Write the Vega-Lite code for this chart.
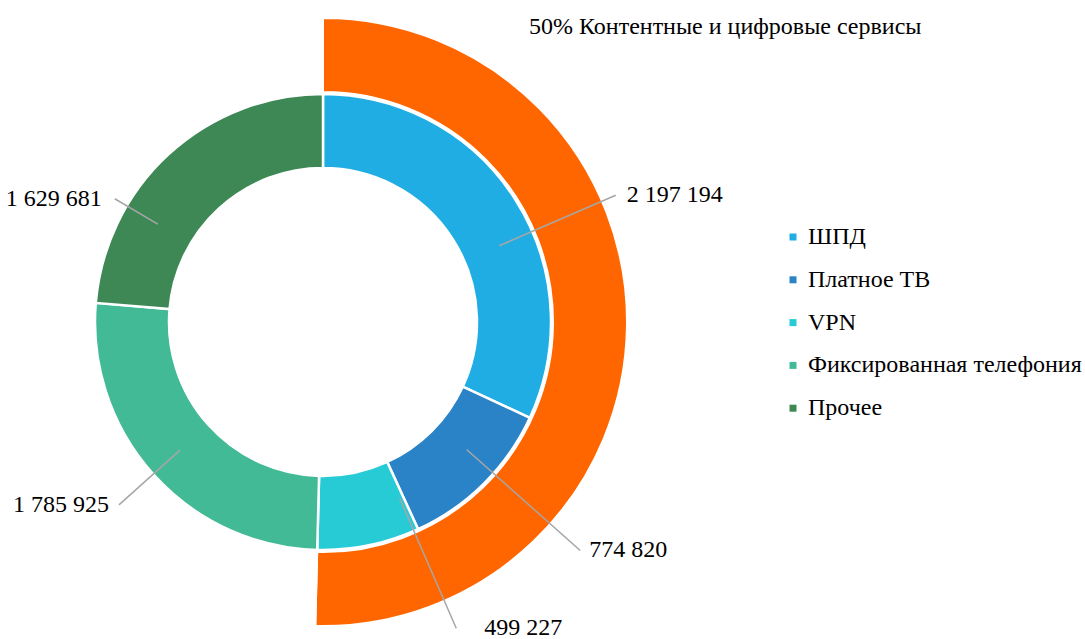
{
  "$schema": "https://vega.github.io/schema/vega-lite/v6.json",
  "autosize": "none",
  "width": 646,
  "height": 634,
  "padding": {"left": 0, "top": 5, "right": 439, "bottom": 0},
  "config": {
    "font": "Liberation Serif",
    "view": {"stroke": null},
    "locale": {"number": {"decimal": ",", "thousands": " ", "grouping": [3], "currency": ["", ""]}},
    "text": {"font": "Liberation Serif", "fontSize": 24, "color": "#000000"},
    "legend": {"labelFont": "Liberation Serif"}
  },
  "datasets": {
    "inner": [
      {"cat": "ШПД", "value": 2197194, "i": 1},
      {"cat": "Платное ТВ", "value": 774820, "i": 2},
      {"cat": "VPN", "value": 499227, "i": 3},
      {"cat": "Фиксированная телефония", "value": 1785925, "i": 4},
      {"cat": "Прочее", "value": 1629681, "i": 5}
    ],
    "outer": [
      {"cat": "Контентные и цифровые сервисы", "value": 3471241, "i": 1, "label": "50% Контентные и цифровые сервисы"},
      {"cat": "Остальное", "value": 3415606, "i": 2, "label": ""}
    ]
  },
  "layer": [
    {
      "data": {"name": "outer"},
      "mark": {"type": "arc", "radius": 304, "radius2": 230, "stroke": "#ffffff", "strokeWidth": 2},
      "encoding": {
        "theta": {"field": "value", "type": "quantitative", "stack": true},
        "order": {"field": "i", "type": "quantitative"},
        "color": {"field": "cat", "type": "nominal", "legend": null,
          "scale": {"domain": ["Контентные и цифровые сервисы", "Остальное"], "range": ["#FF6600", "rgba(255,255,255,0)"]}}
      }
    },
    {
      "data": {"name": "outer"},
      "mark": {"type": "text", "font": "Liberation Serif", "fontSize": 24, "radius": 499, "thetaOffset": -0.646, "align": "center", "baseline": "middle"},
      "encoding": {
        "theta": {"field": "value", "type": "quantitative", "stack": true},
        "order": {"field": "i", "type": "quantitative"},
        "text": {"field": "label", "type": "nominal"}
      }
    },
    {
      "data": {"name": "inner"},
      "mark": {"type": "arc", "radius": 228, "radius2": 154, "stroke": "#ffffff", "strokeWidth": 2.5},
      "encoding": {
        "theta": {"field": "value", "type": "quantitative", "stack": true},
        "order": {"field": "i", "type": "quantitative"},
        "color": {"field": "cat", "type": "nominal", "title": null,
          "scale": {"domain": ["ШПД", "Платное ТВ", "VPN", "Фиксированная телефония", "Прочее"],
                    "range": ["#1FADE4", "#2A83C6", "#27CBD6", "#43BA96", "#3D8855"]},
          "legend": {"orient": "none", "legendX": 781, "legendY": 220, "symbolType": "square", "symbolSize": 49,
                     "symbolStrokeWidth": 0, "labelFont": "Liberation Serif", "labelFontSize": 24, "labelColor": "#000000",
                     "labelLimit": 400, "labelOffset": 3, "rowPadding": 18.8, "padding": 0}}
      }
    },
    {
      "data": {"name": "inner"},
      "mark": {"type": "arc", "filled": false, "radius": 319, "radius2": 192, "padAngle": 3.1, "thetaOffset": 0.160, "theta2Offset": 0.160, "stroke": "#A6A6A6", "strokeWidth": 1.5},
      "encoding": {
        "theta": {"field": "value", "type": "quantitative", "stack": true},
        "order": {"field": "i", "type": "quantitative"},
        "strokeOpacity": {"condition": {"test": "datum.cat === 'ШПД'", "value": 1}, "value": 0}
      }
    },
    {
      "data": {"name": "inner"},
      "mark": {"type": "arc", "filled": false, "radius": 344, "radius2": 192, "padAngle": 3.1, "thetaOffset": -0.061, "theta2Offset": -0.061, "stroke": "#A6A6A6", "strokeWidth": 1.5},
      "encoding": {
        "theta": {"field": "value", "type": "quantitative", "stack": true},
        "order": {"field": "i", "type": "quantitative"},
        "strokeOpacity": {"condition": {"test": "datum.cat === 'Платное ТВ'", "value": 1}, "value": 0}
      }
    },
    {
      "data": {"name": "inner"},
      "mark": {"type": "arc", "filled": false, "radius": 334, "radius2": 192, "padAngle": 3.1, "thetaOffset": -0.208, "theta2Offset": -0.208, "stroke": "#A6A6A6", "strokeWidth": 1.5},
      "encoding": {
        "theta": {"field": "value", "type": "quantitative", "stack": true},
        "order": {"field": "i", "type": "quantitative"},
        "strokeOpacity": {"condition": {"test": "datum.cat === 'VPN'", "value": 1}, "value": 0}
      }
    },
    {
      "data": {"name": "inner"},
      "mark": {"type": "arc", "filled": false, "radius": 274, "radius2": 192, "padAngle": 3.1, "stroke": "#A6A6A6", "strokeWidth": 1.5},
      "encoding": {
        "theta": {"field": "value", "type": "quantitative", "stack": true},
        "order": {"field": "i", "type": "quantitative"},
        "strokeOpacity": {"condition": {"test": "datum.cat === 'Фиксированная телефония'", "value": 1}, "value": 0}
      }
    },
    {
      "data": {"name": "inner"},
      "mark": {"type": "arc", "filled": false, "radius": 242, "radius2": 192, "padAngle": 3.1, "thetaOffset": -0.293, "theta2Offset": -0.293, "stroke": "#A6A6A6", "strokeWidth": 1.5},
      "encoding": {
        "theta": {"field": "value", "type": "quantitative", "stack": true},
        "order": {"field": "i", "type": "quantitative"},
        "strokeOpacity": {"condition": {"test": "datum.cat === 'Прочее'", "value": 1}, "value": 0}
      }
    },
    {
      "data": {"name": "inner"},
      "mark": {"type": "text", "font": "Liberation Serif", "fontSize": 24, "radius": 319, "thetaOffset": 0.160, "align": "left", "baseline": "middle", "dx": 11},
      "encoding": {
        "theta": {"field": "value", "type": "quantitative", "stack": true},
        "order": {"field": "i", "type": "quantitative"},
        "text": {"condition": {"test": "datum.cat === 'ШПД'", "field": "value", "type": "quantitative", "format": ",d"}, "value": ""}
      }
    },
    {
      "data": {"name": "inner"},
      "mark": {"type": "text", "font": "Liberation Serif", "fontSize": 24, "radius": 344, "thetaOffset": -0.061, "align": "left", "baseline": "middle", "dx": 9},
      "encoding": {
        "theta": {"field": "value", "type": "quantitative", "stack": true},
        "order": {"field": "i", "type": "quantitative"},
        "text": {"condition": {"test": "datum.cat === 'Платное ТВ'", "field": "value", "type": "quantitative", "format": ",d"}, "value": ""}
      }
    },
    {
      "data": {"name": "inner"},
      "mark": {"type": "text", "font": "Liberation Serif", "fontSize": 24, "radius": 334, "thetaOffset": -0.208, "align": "left", "baseline": "middle", "dx": 28},
      "encoding": {
        "theta": {"field": "value", "type": "quantitative", "stack": true},
        "order": {"field": "i", "type": "quantitative"},
        "text": {"condition": {"test": "datum.cat === 'VPN'", "field": "value", "type": "quantitative", "format": ",d"}, "value": ""}
      }
    },
    {
      "data": {"name": "inner"},
      "mark": {"type": "text", "font": "Liberation Serif", "fontSize": 24, "radius": 274, "align": "right", "baseline": "middle", "dx": -10},
      "encoding": {
        "theta": {"field": "value", "type": "quantitative", "stack": true},
        "order": {"field": "i", "type": "quantitative"},
        "text": {"condition": {"test": "datum.cat === 'Фиксированная телефония'", "field": "value", "type": "quantitative", "format": ",d"}, "value": ""}
      }
    },
    {
      "data": {"name": "inner"},
      "mark": {"type": "text", "font": "Liberation Serif", "fontSize": 24, "radius": 242, "thetaOffset": -0.293, "align": "right", "baseline": "middle", "dx": -13},
      "encoding": {
        "theta": {"field": "value", "type": "quantitative", "stack": true},
        "order": {"field": "i", "type": "quantitative"},
        "text": {"condition": {"test": "datum.cat === 'Прочее'", "field": "value", "type": "quantitative", "format": ",d"}, "value": ""}
      }
    }
  ],
  "resolve": {"scale": {"color": "independent"}}
}
